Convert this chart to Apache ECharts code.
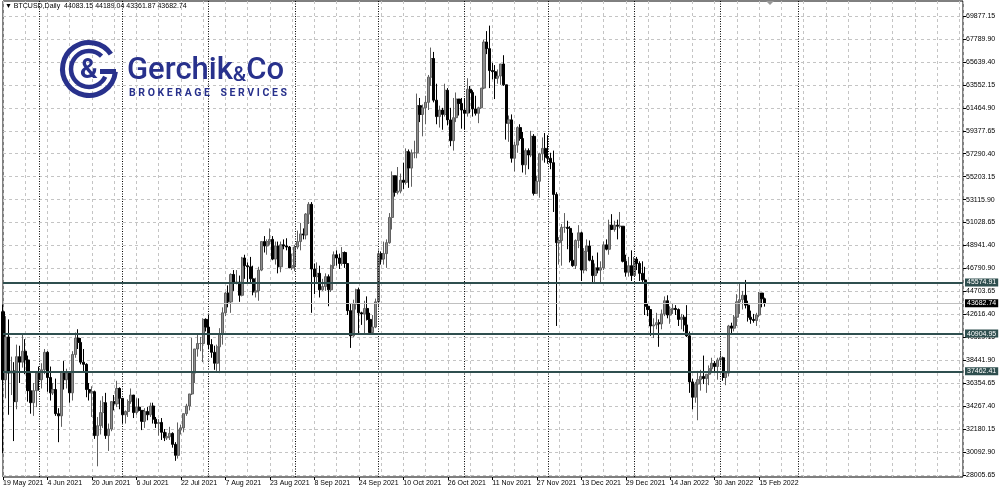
<!DOCTYPE html>
<html><head><meta charset="utf-8">
<script src="https://cdn.jsdelivr.net/npm/echarts@6/dist/echarts.min.js"></script>
<style>html,body{margin:0;padding:0;background:#fff}#c{width:1000px;height:491px}</style>
</head><body><div id="c"></div>
<script>
// ---- Data: BTCUSD daily, 19 May 2021 .. 17 Feb 2022 (index 0 = 19 May 2021) ----
const opens = [
42900,36700,40600,37300,37500,34700,38800,38300,39300,38500,35700,34600,35700,
37300,36700,37600,39200,36900,35500,35800,33600,33400,37400,36700,37300,35500,39000,40500,40100,38300,38100,35800,35500,35600,31600,32500,33700,34600,31600,32200,34700,34500,35900,
35000,33500,33800,34700,35300,33700,34200,33900,32900,33800,33500,34300,33100,32700,32800,31900,31400,31500,31800,30800,29800,32100,32300,33600,34300,35400,37300,39500,40000,40000,42200,
41500,39900,39200,38200,39700,40900,42800,44600,43800,46300,45600,45600,44400,47800,47100,47000,45900,44700,44800,46700,49300,48900,49300,49500,47700,48900,47000,49000,48900,48800,46900,
47100,48800,49300,50000,49900,51800,52700,46800,46100,46400,44900,45200,46100,44900,47100,48100,47800,47300,48300,47300,43000,40700,43600,44900,42800,42700,43200,42200,41000,41500,
43800,48200,47700,48200,49200,51500,55300,53800,53900,54900,54700,57500,56000,57400,57400,61700,60900,61500,62000,64300,66000,62200,60700,61300,60900,63100,60400,58500,60600,62300,61900,
61300,61000,63200,62900,61400,61000,61500,63300,67500,66900,64900,64800,64200,64400,65500,63600,60100,60400,56900,58100,59700,58700,56300,57600,57200,58900,53700,54800,57300,57800,
57000,56900,56500,53600,49200,49400,50600,50600,50500,47600,47100,49400,50100,46700,48400,48900,47600,46200,46900,46700,46900,49000,48600,50800,50400,50800,50700,50700,47500,46500,47100,
46200,47700,47300,46400,45800,43400,43100,41600,41700,41900,41800,42700,43900,42600,43100,43200,43100,42200,42400,41700,40700,36500,35100,36300,36700,37000,36800,37200,37700,38200,37900,
38500,38700,36900,37300,41600,41400,42400,43800,44000,44400,43500,42400,42200,42100,42600,44600,44083.15
];
const highs = [
43550,42500,42200,38800,38300,39900,39800,40800,40400,38900,37300,36400,37500,
37900,38200,39500,39300,37900,36400,36800,34100,37500,38400,37700,37400,39300,41000,41300,40500,39500,38200,36400,36100,35700,33300,34800,35200,35500,32700,34700,35300,36600,36000,
35000,33900,34900,35900,35300,35000,35000,33900,34100,34200,34600,34600,33300,33100,33200,32200,31900,32400,31900,31000,32800,32600,33600,34500,35400,40500,39500,40900,40600,42300,42300,
42600,40400,39800,39900,41400,43300,44700,45300,46400,46700,46700,46200,47900,48100,47400,47900,47100,46000,47000,49300,49800,49500,50500,49800,49300,49300,49300,49500,49600,48900,48200,
49000,50300,51000,50500,51900,52900,52900,47300,47400,47100,45900,46400,46300,47200,48400,48500,48200,48800,48400,47300,43600,44000,45000,45100,42900,43900,44300,42800,42600,44100,
48500,48400,49300,49500,51900,55700,55300,56100,55500,56500,57800,57700,57700,58500,62800,62400,61800,62600,64500,67000,66600,63700,61700,61500,63700,63300,61500,62400,62900,62300,62400,
62400,64200,63500,63100,62600,61600,63300,67700,68500,69000,65600,65400,65000,65500,66300,63600,60800,60900,58400,59800,60000,59300,57800,57800,59400,59100,55300,57400,58800,59200,
59000,57400,57600,53800,49700,50900,51900,51200,50700,50100,49500,50800,50200,48700,49500,49400,48000,47300,48300,47500,49300,49500,51300,51800,51200,51300,52000,50700,48100,47900,48500,
47900,47900,47500,47500,47000,43700,43100,42300,42800,42200,43100,44300,44400,43400,43700,43500,43200,42700,42600,43500,41100,36800,36500,37500,37600,38900,37200,38000,38700,38400,38700,
39300,38800,37400,41700,41900,42600,44500,45500,44800,45800,43900,43000,42700,42800,44700,44600,44189.04
];
const lows = [
30000,35000,33500,35300,31100,34000,36400,37800,37200,34700,33600,33400,34200,
35700,35900,37200,35600,34800,35300,33400,31000,32400,35800,35900,34600,34800,38700,39500,38100,37400,35100,34800,33300,31300,28800,31700,32300,31300,30200,32000,33900,34200,34000,
32700,32700,33300,34500,33200,33500,33800,32100,32300,33000,33300,32700,32300,31600,31200,31100,31200,31200,30500,29300,29500,31700,31900,33400,33900,35300,36400,38800,39300,38300,41100,
39500,38700,37600,37500,37300,39900,42500,43300,42800,44800,45400,43800,44300,45900,45500,45600,44400,44200,43900,46600,48300,48100,49000,47600,47200,46400,46500,48600,48500,46900,46700,
46600,48600,48500,49500,49500,50900,42800,44500,45500,44200,44800,44800,43400,44700,46800,47100,46800,47100,46900,42600,39600,40600,43100,40900,41700,40800,42100,40900,40800,41400,
43300,47200,47200,46900,49100,50400,53400,53600,53700,54100,54500,54200,54300,56900,56900,60200,58900,60000,61300,63500,62000,60000,59700,59500,60700,59900,58000,57600,60200,60800,59600,
59500,60700,61000,60700,60800,60100,61400,63200,66400,63300,64100,62300,63700,63600,63500,58600,58400,56500,55700,57400,58500,55600,55400,55900,57000,53500,53700,53300,56700,56500,
56400,55900,52000,41600,47200,47100,50100,48600,47400,47000,46800,48700,45700,46400,46600,47500,45600,45600,46400,45600,46700,48500,48100,50400,50200,49500,50500,47400,46100,46100,45700,
46200,46700,45700,45500,42600,42500,40700,40500,41300,39700,41300,42500,42300,41800,42700,42600,41600,41300,41100,40600,35500,34000,34600,33000,35700,36300,35500,36200,37300,37400,36700,
38000,36600,36200,37000,40900,41100,41600,42700,43100,43200,42000,41800,41900,41600,42400,43300,43361.87
];
const closes = [
36700,40600,37300,37500,34700,38800,38300,39300,38500,35700,34600,35700,37300,
36700,37600,39200,36900,35500,35800,33600,33400,37400,36700,37300,35500,39000,40500,40100,38300,38100,35800,35500,35600,31600,32500,33700,34600,31600,32200,34700,34500,35900,35000,
33500,33800,34700,35300,33700,34200,33900,32900,33800,33500,34300,33100,32700,32800,31900,31400,31500,31800,30800,29800,32100,32300,33600,34300,35400,37300,39500,40000,40000,42200,41500,
39900,39200,38200,39700,40900,42800,44600,43800,46300,45600,45600,44400,47800,47100,47000,45900,44700,44800,46700,49300,48900,49300,49500,47700,48900,47000,49000,48900,48800,46900,47100,
48800,49300,50000,49900,51800,52700,46800,46100,46400,44900,45200,46100,44900,47100,48100,47800,47300,48300,47300,43000,40700,43600,44900,42800,42700,43200,42200,41000,41500,43800,
48200,47700,48200,49200,51500,55300,53800,53900,54900,54700,57500,56000,57400,57400,61700,60900,61500,62000,64300,66000,62200,60700,61300,60900,63100,60400,58500,60600,62300,61900,61300,
61000,63200,62900,61400,61000,61500,63300,67500,66900,64900,64800,64200,64400,65500,63600,60100,60400,56900,58100,59700,58700,56300,57600,57200,58900,53700,54800,57300,57800,57000,
56900,56500,53600,49200,49400,50600,50600,50500,47600,47100,49400,50100,46700,48400,48900,47600,46200,46900,46700,46900,49000,48600,50800,50400,50800,50700,50700,47500,46500,47100,46200,
47700,47300,46400,45800,43400,43100,41600,41700,41900,41800,42700,43900,42600,43100,43200,43100,42200,42400,41700,40700,36500,35100,36300,36700,37000,36800,37200,37700,38200,37900,38500,
38700,36900,37300,41600,41400,42400,43800,44000,44400,43500,42400,42200,42100,42600,44600,44083.15,43682.74
];
const xTickIndex = [0,16,32,48,64,80,96,112,128,144,160,176,192,208,224,240,256,272];
const xTickLabels = ['19 May 2021','4 Jun 2021','20 Jun 2021','6 Jul 2021','22 Jul 2021','7 Aug 2021','23 Aug 2021','8 Sep 2021','24 Sep 2021','10 Oct 2021','26 Oct 2021','11 Nov 2021','27 Nov 2021','13 Dec 2021','29 Dec 2021','14 Jan 2022','30 Jan 2022','15 Feb 2022'];
const yTickLabels = ['28005.65','30092.90','32180.15','34267.40','36354.65','38441.90','40529.15','42616.40','44703.65','46790.90','48941.40','51028.65','53115.90','55203.15','57290.40','59377.65','61464.90','63552.15','65639.40','67789.90','69877.15'];
const monthStarts = [13,43,74,105,135,166,196,227,258,286];
const levels = [45574.91, 40904.95, 37462.41];
const bidPrice = 43682.74;
const headerText = 'BTCUSD,Daily  44083.15 44189.04 43361.87 43682.74';

// ---- layout constants ----
const PRICE_MIN = 28005.65, PRICE_MAX = 69877.15;
const X_MAX = 345.3;
const NAVY = '#28318c';
const LEVEL_COLOR = '#2F4F4F';
const FONT = '"Liberation Sans", Arial, sans-serif';

const candleData = opens.map((o, i) => [i, o, closes[i], lows[i], highs[i]]);

const chart = echarts.init(document.getElementById('c'), null, {renderer: 'canvas'});
const dash = {color: '#c4c4c4', type: [3, 3], width: 1};
const levelLabel = (bg) => ({show: true, position: 'end', distance: 2, formatter: p => Number(p.value).toFixed(2),
  color: '#fff', backgroundColor: bg, padding: [1, 2, 0, 2], fontSize: 7, fontFamily: FONT});

chart.setOption({
  animation: false,
  backgroundColor: '#fff',
  textStyle: {fontFamily: FONT},
  grid: [
    {left: 3, right: 37, top: 1, bottom: 14, show: true, borderColor: '#000', borderWidth: 1},
    {left: 3, right: 37, top: 16, bottom: 16}
  ],
  xAxis: [
    {gridIndex: 0, type: 'value', min: 0, max: X_MAX, interval: 8, position: 'bottom',
     axisLine: {show: false}, axisTick: {show: false}, axisLabel: {show: false},
     splitLine: {show: true, lineStyle: dash}},
    {gridIndex: 0, type: 'value', min: 0, max: X_MAX, position: 'bottom',
     axisLine: {show: false},
     axisTick: {show: true, length: 3, customValues: xTickIndex, lineStyle: {color: '#000'}},
     axisLabel: {show: true, customValues: xTickIndex, formatter: v => xTickLabels[xTickIndex.indexOf(v)] || '',
       fontSize: 7, color: '#000', align: 'left', margin: 3},
     splitLine: {show: false}},
    {gridIndex: 1, type: 'value', min: 0, max: X_MAX, show: false}
  ],
  yAxis: [
    {gridIndex: 0, type: 'value', min: 0, max: 1, show: false},
    {gridIndex: 1, type: 'value', min: PRICE_MIN, max: PRICE_MAX, show: false},
    {gridIndex: 1, type: 'value', min: 0, max: 20, interval: 1, position: 'right',
     axisLine: {show: false},
     axisTick: {show: true, length: 3, lineStyle: {color: '#000'}},
     axisLabel: {fontSize: 7, color: '#000', margin: 3, formatter: v => yTickLabels[v] || ''},
     splitLine: {show: true, lineStyle: dash}}
  ],
  series: [
    {type: 'line', xAxisIndex: 0, yAxisIndex: 0, data: [], silent: true, z: 1,
     markLine: {silent: true, symbol: 'none', animation: false, label: {show: false},
       lineStyle: {color: '#000', type: [1, 1.5], width: 1},
       data: monthStarts.map(v => ({xAxis: v}))}},
    {type: 'candlestick', xAxisIndex: 2, yAxisIndex: 1, data: candleData, barWidth: 2.6, clip: false, z: 2,
     itemStyle: {color: '#8e8e8e', color0: '#000', borderColor: '#606060', borderColor0: '#000', borderWidth: 1},
     markLine: {silent: true, symbol: 'none', animation: false,
       data: levels.map(v => ({yAxis: v, lineStyle: {color: LEVEL_COLOR, width: 2, type: 'solid'}, label: levelLabel(LEVEL_COLOR)}))
         .concat([{yAxis: bidPrice, lineStyle: {color: '#c0c0c0', width: 1, type: 'solid'}, label: levelLabel('#000')}])}}
  ],
  graphic: [
    {type: 'text', left: 5, top: 3, z: 10, style: {text: '\u25BC ' + headerText, font: '7px ' + FONT, fill: '#000'}},
    {type: 'polygon', z: 10, shape: {points: [[766, 1], [774, 1], [770, 5]]}, style: {fill: '#999'}},
    {type: 'arc', z: 10, shape: {cx: 89, cy: 69, r: 26.5, startAngle: -0.6, endAngle: 0.1, clockwise: false},
     style: {stroke: NAVY, lineWidth: 5, fill: null}},
    {type: 'line', z: 10, shape: {x1: 100, y1: 71.5, x2: 116, y2: 71.5}, style: {stroke: NAVY, lineWidth: 5}},
    {type: 'arc', z: 10, shape: {cx: 89, cy: 69, r: 18, startAngle: -0.8, endAngle: 0.45, clockwise: false},
     style: {stroke: NAVY, lineWidth: 4.5, fill: null}},
    {type: 'text', z: 10, x: 89, y: 71, style: {text: '&', font: 'bold 27px Roboto', fill: NAVY, align: 'center', verticalAlign: 'middle'}},
    {type: 'text', z: 10, x: 127, y: 71, style: {text: '{a|Gerchik}{b|&}{a|Co}', fill: NAVY, verticalAlign: 'middle',
      rich: {a: {font: '500 31px Roboto', fill: NAVY}, b: {font: '500 21px Roboto', fill: NAVY, verticalAlign: 'bottom'}}}},
    {type: 'text', z: 10, x: 129, y: 93.5, style: {text: 'B R O K E R A G E    S E R V I C E S', font: 'bold 10.5px Roboto', fill: NAVY, verticalAlign: 'middle'}}
  ]
});
</script>
</body></html>
